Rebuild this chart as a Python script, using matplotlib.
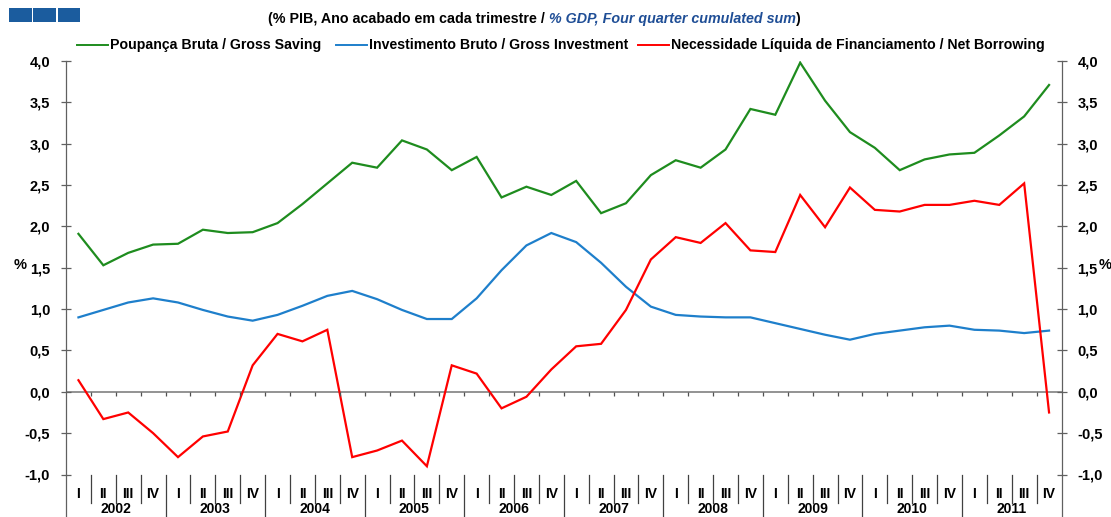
import numpy as np
import matplotlib
matplotlib.use("Agg")
import matplotlib.pyplot as plt
from matplotlib.patches import Rectangle
from matplotlib.lines import Line2D

# quarterly data, 2002 Q1 .. 2011 Q4 (% of GDP, four quarter cumulated sum)
years = ["2002", "2003", "2004", "2005", "2006", "2007", "2008", "2009", "2010", "2011"]
quarters = ["I", "II", "III", "IV"]

gross_saving = [1.91, 1.53, 1.68, 1.78, 1.79, 1.96, 1.92, 1.93, 2.04, 2.27,
                2.52, 2.77, 2.71, 3.04, 2.93, 2.68, 2.84, 2.35, 2.48, 2.38,
                2.55, 2.16, 2.28, 2.62, 2.80, 2.71, 2.93, 3.42, 3.35, 3.98,
                3.52, 3.14, 2.95, 2.68, 2.81, 2.87, 2.89, 3.10, 3.33, 3.71]
gross_investment = [0.90, 0.99, 1.08, 1.13, 1.08, 0.99, 0.91, 0.86, 0.93, 1.04,
                    1.16, 1.22, 1.12, 0.99, 0.88, 0.88, 1.13, 1.47, 1.77, 1.92,
                    1.81, 1.56, 1.27, 1.03, 0.93, 0.91, 0.90, 0.90, 0.83, 0.76,
                    0.69, 0.63, 0.70, 0.74, 0.78, 0.80, 0.75, 0.74, 0.71, 0.74]
net_borrowing = [0.14, -0.33, -0.25, -0.50, -0.79, -0.54, -0.48, 0.32, 0.70, 0.61,
                 0.75, -0.79, -0.71, -0.59, -0.90, 0.32, 0.22, -0.20, -0.06, 0.27,
                 0.55, 0.58, 0.99, 1.60, 1.87, 1.80, 2.04, 1.71, 1.69, 2.38,
                 1.99, 2.47, 2.20, 2.18, 2.26, 2.26, 2.31, 2.26, 2.52, -0.25]

labels = [
    "Poupança Bruta / Gross Saving",
    "Investimento Bruto / Gross Investment",
    "Necessidade Líquida de Financiamento / Net Borrowing",
]
colors = ["#1E8C1E", "#1E7FCB", "#FF0000"]

plt.rcParams["font.family"] = ["Liberation Sans", "DejaVu Sans"]

W, H = 1111, 517
fig = plt.figure(figsize=(W / 100, H / 100), dpi=100)
ax = fig.add_axes([66 / W, 1 - 474.5 / H, (1061.5 - 66) / W, (474.5 - 61) / H])

n = len(gross_saving)
x = np.arange(n)
for vals, c in zip([gross_saving, gross_investment, net_borrowing], colors):
    ax.plot(x, vals, color=c, lw=1.6, solid_joinstyle="miter")

ax.set_xlim(-0.5, n - 0.5)
ax.set_ylim(-1, 4)

# zero line with small ticks at the quarter boundaries
ax.axhline(0, color="#808080", lw=1.2, zorder=0)
bounds = np.arange(n - 1) + 0.5
ax.vlines(bounds, -0.05, 0, color="#505050", lw=0.9)

# y axes on both sides
yt = np.arange(-1, 4.01, 0.5)
ax.set_yticks(yt)
ax.set_yticklabels([f"{v:.1f}".replace(".", ",") for v in yt], fontsize=10.5, fontweight="bold")
ax.tick_params(axis="y", direction="inout", length=7, width=0.9, color="#606060",
               left=True, right=True, labelleft=True, labelright=True, pad=8)
for s in ["top", "bottom"]:
    ax.spines[s].set_visible(False)
for s in ["left", "right"]:
    ax.spines[s].set_color("#606060")
    ax.spines[s].set_linewidth(0.9)

# category table under the plot
ax.set_xticks(x)
ax.set_xticklabels(quarters * len(years), fontsize=10, fontweight="bold")
ax.tick_params(axis="x", length=0, pad=9)
tr = ax.get_xaxis_transform()
for b in bounds:
    year_end = (b + 0.5) % 4 == 0
    ax.plot([b, b], [0, -0.16 if year_end else -0.07], transform=tr,
            color="#404040", lw=0.9, clip_on=False)
for s in [-0.5, n - 0.5]:
    ax.plot([s, s], [0, -0.16], transform=tr, color="#606060", lw=0.9, clip_on=False)
for k, yr in enumerate(years):
    ax.text(4 * k + 1.5, -0.1015, yr, transform=tr, ha="center", va="bottom",
            fontsize=10, fontweight="bold")

fig.text(14 / W, 1 - 265 / H, "%", fontsize=10.5, fontweight="bold", va="center")
fig.text(1099 / W, 1 - 265 / H, "%", fontsize=10.5, fontweight="bold", va="center")

# logo squares
for k in range(3):
    fig.add_artist(Rectangle(((9 + 24.3 * k) / W, 1 - 22 / H), 22.5 / W, 14 / H,
                             transform=fig.transFigure, color="#1B5C9E", lw=0))

# title in two styles
t1 = fig.text(268 / W, 1 - 19 / H, "(% PIB, Ano acabado em cada trimestre / ",
              fontsize=10.3, fontweight="bold", va="center")
t2 = ax.annotate("% GDP, Four quarter cumulated sum", xy=(1, 0), xycoords=t1,
                 va="bottom", ha="left", fontsize=10.3, fontweight="bold",
                 style="italic", color="#1F4E96")
ax.annotate(")", xy=(1, 0), xycoords=t2, va="bottom", ha="left",
            fontsize=10.3, fontweight="bold")

# legend drawn by hand
leg_y = 1 - 45 / H
starts = [77, 336, 638]
for lab, c, x0 in zip(labels, colors, starts):
    fig.add_artist(Line2D([x0 / W, (x0 + 31) / W], [leg_y, leg_y], color=c, lw=1.4,
                          transform=fig.transFigure))
    fig.text((x0 + 33) / W, leg_y, lab, fontsize=10.2, fontweight="bold", va="center")

fig.savefig("out.png", dpi=100)
